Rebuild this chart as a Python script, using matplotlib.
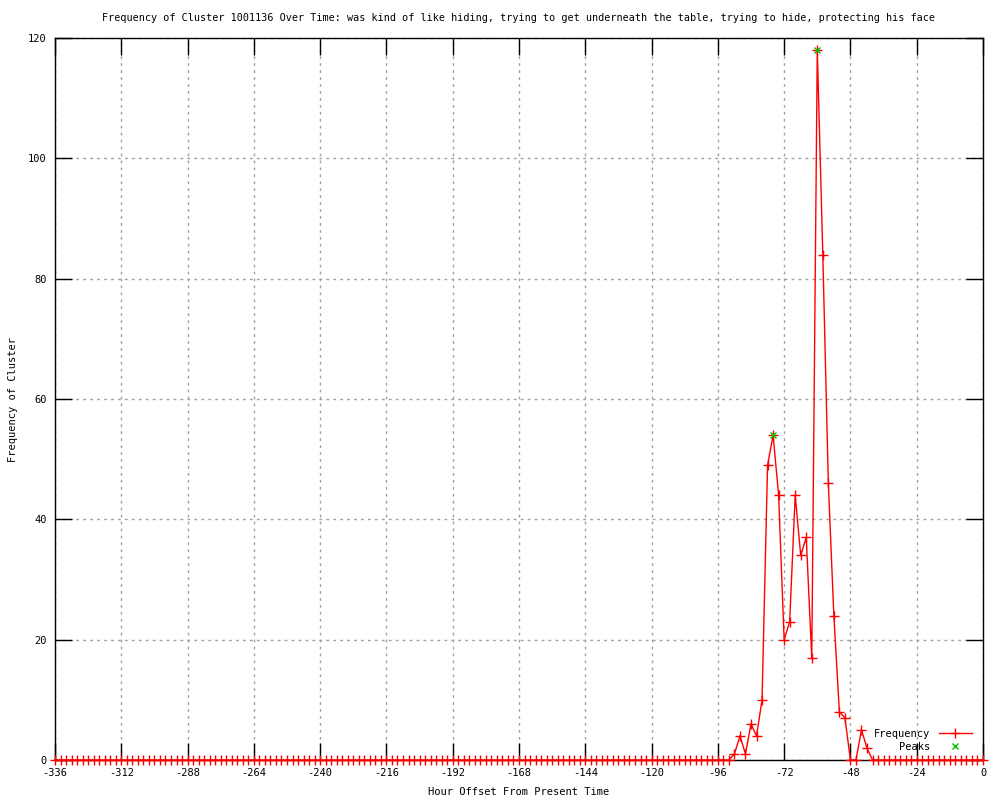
import numpy as np
import matplotlib
matplotlib.use('Agg')
import matplotlib.pyplot as plt

plt.rcParams['font.family'] = ['DejaVu Sans Mono']
plt.rcParams['axes.unicode_minus'] = False

# hour offsets, every 2 hours from -336 to 0
hours = list(range(-336, 1, 2))

# cluster frequency per 2-hour bin (rows of 12 = 24 hours)
freq = [
    0, 0, 0, 0, 0, 0, 0, 0, 0, 0, 0, 0,        # -336 .. -314
    0, 0, 0, 0, 0, 0, 0, 0, 0, 0, 0, 0,        # -312 .. -290
    0, 0, 0, 0, 0, 0, 0, 0, 0, 0, 0, 0,        # -288 .. -266
    0, 0, 0, 0, 0, 0, 0, 0, 0, 0, 0, 0,        # -264 .. -242
    0, 0, 0, 0, 0, 0, 0, 0, 0, 0, 0, 0,        # -240 .. -218
    0, 0, 0, 0, 0, 0, 0, 0, 0, 0, 0, 0,        # -216 .. -194
    0, 0, 0, 0, 0, 0, 0, 0, 0, 0, 0, 0,        # -192 .. -170
    0, 0, 0, 0, 0, 0, 0, 0, 0, 0, 0, 0,        # -168 .. -146
    0, 0, 0, 0, 0, 0, 0, 0, 0, 0, 0, 0,        # -144 .. -122
    0, 0, 0, 0, 0, 0, 0, 0, 0, 0, 0, 0,        # -120 .. -98
    0, 0, 0, 1, 4, 1, 6, 4, 10, 49, 54, 44,    # -96 .. -74
    20, 23, 44, 34, 37, 17, 118, 84, 46, 24, 8, 7,  # -72 .. -50
    0, 0, 5, 2, 0, 0, 0, 0, 0, 0, 0, 0,        # -48 .. -26
    0, 0, 0, 0, 0, 0, 0, 0, 0, 0, 0, 0,        # -24 .. -2
    0,                                         # 0
]

peak_hours = [-76, -60]
peak_freq = [54, 118]

x_ticks = list(range(-336, 1, 24))
y_ticks = list(range(0, 121, 20))

title = ("Frequency of Cluster 1001136 Over Time: was kind of like hiding, "
         "trying to get underneath the table, trying to hide, protecting his face")

fig = plt.figure(figsize=(10, 8), dpi=100)
ax = fig.add_axes([0.055, 0.05, 0.928, 0.9025])

ax.plot(hours, freq, color='red', lw=1, marker='+', ms=6.5, mew=1,
        label='Frequency', clip_on=False, zorder=3)
ax.plot(peak_hours, peak_freq, ls='none', color='#00c000', marker='x',
        ms=5, mew=1, label='Peaks', clip_on=False, zorder=4)

ax.set_xlim(-336, 0)
ax.set_ylim(0, 120)
ax.set_xticks(x_ticks)
ax.set_yticks(y_ticks)
ax.tick_params(direction='in', length=12, width=1, top=True, right=True,
               labelsize=7.5, colors='black', pad=6)
ax.grid(True, color='#a0a0a0', linestyle=(0, (2, 3)), lw=1)
for s in ax.spines.values():
    s.set_linewidth(1)

ax.set_title(title, fontsize=7.3, pad=12)
ax.set_xlabel('Hour Offset From Present Time', fontsize=7.5)
ax.set_ylabel('Frequency of Cluster', fontsize=7.5)
ax.xaxis.set_label_coords(0.5, -0.038)
ax.yaxis.set_label_coords(-0.04, 0.5)

leg = ax.legend(loc='lower right', bbox_to_anchor=(0.997, 0.0), markerfirst=False,
                frameon=False, fontsize=7.5, handlelength=3.2,
                labelspacing=0.25, borderaxespad=0.4)

fig.savefig('out.png', dpi=100)
